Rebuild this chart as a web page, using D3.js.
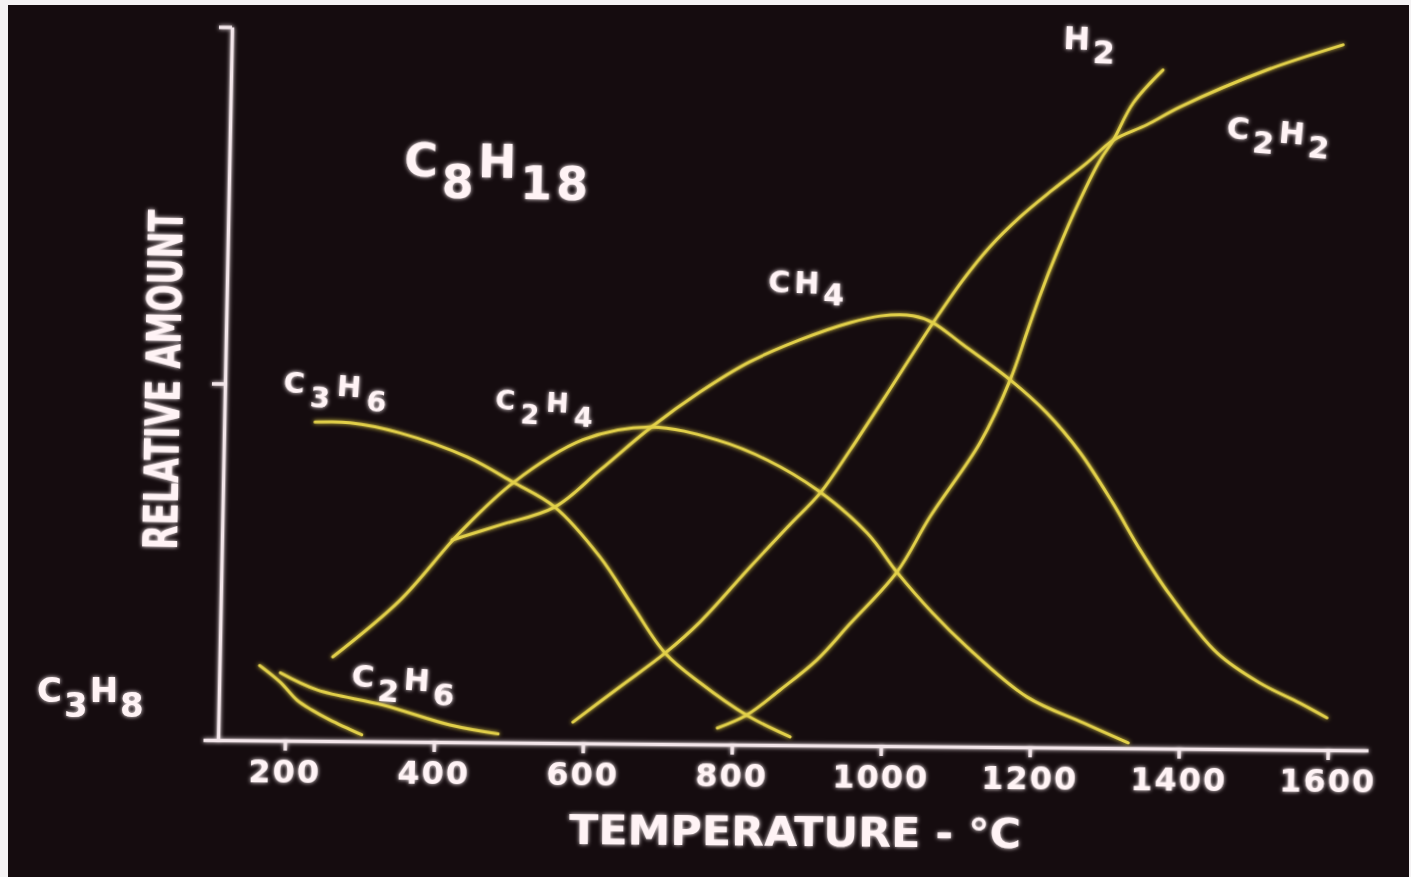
<!DOCTYPE html>
<html>
<head>
<meta charset="utf-8">
<script src="https://cdn.jsdelivr.net/npm/d3@7"></script>
<style>
  html, body { margin: 0; padding: 0; background: #f4f2f3; }
  svg { display: block; }
</style>
</head>
<body>
<div id="chart"></div>
<script>
// gas yields of C8H18 cracking vs temperature
const xTicks = [200, 400, 600, 800, 1000, 1200, 1400, 1600];
const yTicks = [1, 2];

const c3h8T = [164, 192, 215, 235, 260, 303];
const c3h8V = [0.21, 0.164, 0.114, 0.087, 0.059, 0.018];

const c2h6T = [192, 242, 331, 421, 486];
const c2h6V = [0.19, 0.143, 0.102, 0.048, 0.024];

const c3h6T = [232, 279, 346, 437, 499, 556, 618, 664, 708, 756, 819, 878];
const c3h6V = [0.894, 0.893, 0.866, 0.80, 0.731, 0.662, 0.523, 0.384, 0.255, 0.172, 0.083, 0.023];

const c2h4T = [262, 351, 429, 499, 592, 682, 772, 840, 908, 976, 1017, 1066, 1113, 1195, 1271, 1332];
const c2h4V = [0.236, 0.397, 0.587, 0.728, 0.851, 0.889, 0.854, 0.799, 0.716, 0.597, 0.488, 0.374, 0.28, 0.141, 0.07, 0.015];

const ch4T = [419, 483, 556, 616, 682, 748, 814, 881, 947, 988, 1032, 1059, 1100, 1164, 1214, 1260, 1305, 1343, 1384, 1449, 1507, 1561, 1598];
const ch4V = [0.567, 0.61, 0.662, 0.767, 0.886, 0.988, 1.074, 1.137, 1.186, 1.206, 1.207, 1.188, 1.127, 1.03, 0.938, 0.827, 0.687, 0.556, 0.431, 0.269, 0.186, 0.131, 0.09];

const c2h2T = [586, 648, 708, 754, 820, 872, 912, 951, 994, 1059, 1098, 1133, 1173, 1216, 1261, 1296, 1341, 1385, 1501, 1602];
const c2h2V = [0.059, 0.159, 0.255, 0.343, 0.499, 0.618, 0.708, 0.829, 0.971, 1.188, 1.309, 1.402, 1.487, 1.564, 1.64, 1.705, 1.749, 1.80, 1.906, 1.978];

const h2T = [780, 819, 863, 912, 955, 1017, 1060, 1125, 1164, 1185, 1202, 1223, 1253, 1279, 1296, 1322, 1361];
const h2V = [0.046, 0.083, 0.154, 0.24, 0.341, 0.488, 0.644, 0.852, 1.03, 1.162, 1.269, 1.387, 1.537, 1.649, 1.705, 1.81, 1.903];

const series = [
  { name: "C3H8", t: c3h8T, v: c3h8V },
  { name: "C2H6", t: c2h6T, v: c2h6V },
  { name: "C3H6", t: c3h6T, v: c3h6V },
  { name: "C2H4", t: c2h4T, v: c2h4V },
  { name: "CH4",  t: ch4T,  v: ch4V },
  { name: "C2H2", t: c2h2T, v: c2h2V },
  { name: "H2",   t: h2T,   v: h2V }
];

// formula labels: [text, isSubscript]
const labels = [
  { parts: [["C",0],["8",1],["H",0],["18",1]], x: 404, y: 176, size: 46, sub: 21, rot: 1, ls: 4 },
  { parts: [["C",0],["3",1],["H",0],["8",1]],  x: 37,  y: 702, size: 34, sub: 15, rot: 0, ls: 2 },
  { parts: [["C",0],["2",1],["H",0],["6",1]],  x: 351, y: 686, size: 31, sub: 13, rot: 4, ls: 4 },
  { parts: [["C",0],["3",1],["H",0],["6",1]],  x: 283, y: 392, size: 29, sub: 13, rot: 4, ls: 6 },
  { parts: [["C",0],["2",1],["H",0],["4",1]],  x: 495, y: 409, size: 27, sub: 13, rot: 3, ls: 6 },
  { parts: [["C",0],["H",0],["4",1]],          x: 768, y: 292, size: 30, sub: 11, rot: 2, ls: 4 },
  { parts: [["H",0],["2",1]],                  x: 1063, y: 49, size: 32, sub: 13, rot: 2, ls: 3 },
  { parts: [["C",0],["2",1],["H",0],["2",1]],  x: 1226, y: 138, size: 31, sub: 12, rot: 5, ls: 4 }
];

const width = 1411, height = 877;
const textColor = "#fff3f5", axisColor = "#f3e6ea", lineColor = "#e2d04a";
const font = "'DejaVu Sans', 'Liberation Sans', sans-serif";

const svg = d3.select("#chart")
  .append("svg")
    .attr("width", width)
    .attr("height", height);

// soft glow; a big user-space region so translated text is not cut off
const defs = svg.append("defs");
const glow = defs.append("filter")
    .attr("id", "glow")
    .attr("filterUnits", "userSpaceOnUse")
    .attr("x", -3000).attr("y", -3000)
    .attr("width", 6000).attr("height", 6000);
glow.append("feGaussianBlur")
    .attr("in", "SourceGraphic")
    .attr("stdDeviation", 2)
    .attr("result", "blur");
const merge = glow.append("feMerge");
merge.append("feMergeNode").attr("in", "blur");
merge.append("feMergeNode").attr("in", "SourceGraphic");

// slide frame: white edge left/top, dark projection area
svg.append("rect")
    .attr("width", width).attr("height", height)
    .attr("fill", "#f4f2f3");
svg.append("rect")
    .attr("x", 8).attr("y", 5)
    .attr("width", width - 10).attr("height", height - 5)
    .attr("fill", "#150c0f");

// the photo is slightly skewed, so the whole plot gets the same skew
const plot = svg.append("g")
    .attr("transform", "matrix(1,0.009,-0.0196,1,14.5,-1.96)");

const x = d3.scaleLinear().domain([90, 1654]).range([203, 1368]);
const y = d3.scaleLinear().domain([0, 2]).range([740, 27]);

const xAxis = plot.append("g")
    .attr("transform", "translate(0,740)")
    .call(d3.axisBottom(x)
      .tickValues(xTicks)
      .tickFormat(d3.format("d"))
      .tickSize(10)
      .tickSizeOuter(0)
      .tickPadding(9));

const yAxis = plot.append("g")
    .attr("transform", "translate(218,0)")
    .call(d3.axisLeft(y).tickValues(yTicks).tickSize(13).tickSizeOuter(0).tickFormat(""));

[xAxis, yAxis].forEach(a => {
  a.selectAll("path, line")
      .attr("stroke", axisColor)
      .attr("stroke-width", 3.5)
      .attr("filter", "url(#glow)");
});
xAxis.selectAll("text")
    .attr("fill", textColor)
    .attr("font-family", font)
    .attr("font-weight", "bold")
    .attr("font-size", 32)
    .attr("letter-spacing", 2)
    .attr("filter", "url(#glow)");

const line = d3.line()
    .x(d => x(d[0]))
    .y(d => y(d[1]))
    .curve(d3.curveCatmullRom.alpha(0.5));

plot.selectAll(".gas")
  .data(series)
  .join("path")
    .attr("class", "gas")
    .attr("d", d => line(d3.zip(d.t, d.v)))
    .attr("fill", "none")
    .attr("stroke", lineColor)
    .attr("stroke-width", 3)
    .attr("stroke-linecap", "round")
    .attr("stroke-linejoin", "round")
    .attr("filter", "url(#glow)");

// axis titles
svg.append("text")
    .attr("transform", "translate(795,846) rotate(0.5)")
    .attr("text-anchor", "middle")
    .attr("font-family", font)
    .attr("font-weight", "bold")
    .attr("font-size", 41)
    .attr("textLength", 452)
    .attr("lengthAdjust", "spacingAndGlyphs")
    .attr("fill", textColor)
    .attr("filter", "url(#glow)")
    .text("TEMPERATURE - °C");

svg.append("text")
    .attr("transform", "translate(180,380) rotate(-89)")
    .attr("text-anchor", "middle")
    .attr("font-family", font)
    .attr("font-weight", "bold")
    .attr("font-size", 48)
    .attr("textLength", 340)
    .attr("lengthAdjust", "spacingAndGlyphs")
    .attr("fill", textColor)
    .attr("filter", "url(#glow)")
    .text("RELATIVE AMOUNT");

// formula labels with subscripts
const lab = svg.selectAll(".formula")
  .data(labels)
  .join("text")
    .attr("class", "formula")
    .attr("transform", d => `translate(${d.x},${d.y}) rotate(${d.rot})`)
    .attr("font-family", font)
    .attr("font-weight", "bold")
    .attr("font-size", d => d.size)
    .attr("letter-spacing", d => d.ls)
    .attr("fill", textColor)
    .attr("filter", "url(#glow)");

lab.each(function(d) {
  const t = d3.select(this);
  let shift = 0;
  d.parts.forEach(p => {
    const target = p[1] ? d.sub : 0;
    t.append("tspan")
        .attr("dy", target - shift)
        .text(p[0]);
    shift = target;
  });
});
</script>
</body>
</html>
